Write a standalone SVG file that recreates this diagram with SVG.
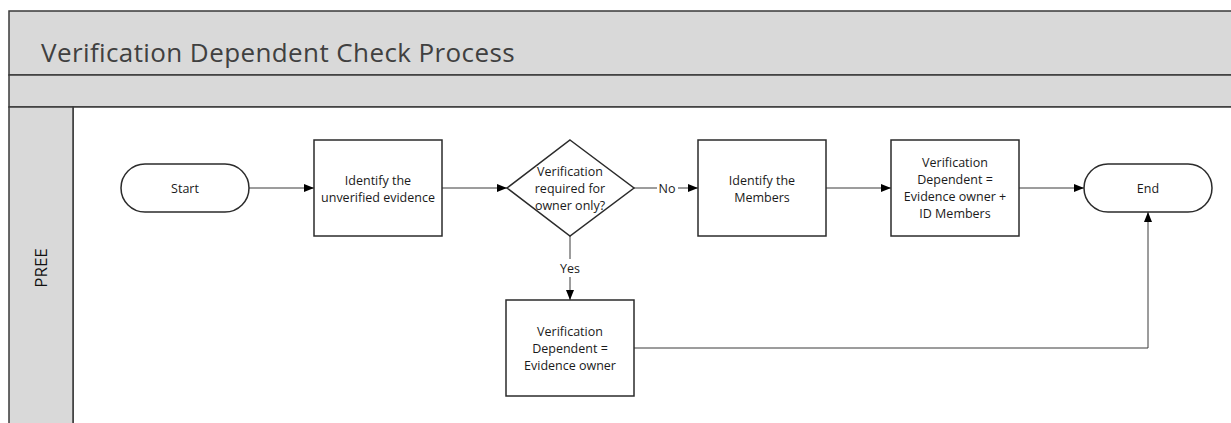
<svg xmlns="http://www.w3.org/2000/svg" width="1231" height="423" viewBox="0 0 1231 423">
  <style>
    .band { fill: #d9d9d9; stroke: #3a3a3a; stroke-width: 1.5; }
    .shape { fill: #ffffff; stroke: #2b2b2b; stroke-width: 1.5; }
    .conn { fill: none; stroke: #3a3a3a; stroke-width: 1; }
    .lbl { font-family: "Open Sans", "Noto Sans", sans-serif; font-size: 12.5px; fill: #1a1a1a; text-anchor: middle; }
    .title { font-family: "Open Sans", "Noto Sans", sans-serif; font-size: 26px; letter-spacing: 0.4px; fill: #404040; }
    .lane { font-family: "Open Sans", "Noto Sans", sans-serif; font-size: 17px; fill: #111111; text-anchor: middle; }
  </style>
  <defs>
    <marker id="arrow" markerWidth="10" markerHeight="8" refX="10" refY="4" orient="auto" markerUnits="userSpaceOnUse">
      <path d="M0,0 L10,4 L0,8 Z" fill="#000000"/>
    </marker>
  </defs>

  <rect width="1231" height="423" fill="#ffffff"/>

  <!-- pool frame: title band, spacer band, lane header -->
  <g id="pool">
    <rect class="band" x="9" y="11" width="1230" height="64"/>
    <rect class="band" x="9" y="75" width="1230" height="32"/>
    <rect x="73" y="107" width="1160" height="320" fill="#ffffff" stroke="#3a3a3a" stroke-width="1.5"/>
    <rect class="band" x="9" y="107" width="64" height="320"/>
    <text class="title" x="41" y="62">Verification Dependent Check Process</text>
    <text class="lane" transform="translate(47,268) rotate(-90)">PREE</text>
  </g>

  <!-- connectors -->
  <g id="connectors">
    <line class="conn" x1="249" y1="188" x2="314" y2="188" marker-end="url(#arrow)"/>
    <line class="conn" x1="442" y1="188" x2="507" y2="188" marker-end="url(#arrow)"/>
    <line class="conn" x1="634" y1="188" x2="657" y2="188"/>
    <line class="conn" x1="678" y1="188" x2="698" y2="188" marker-end="url(#arrow)"/>
    <text class="lbl" x="667" y="193">No</text>
    <line class="conn" x1="826" y1="188" x2="891" y2="188" marker-end="url(#arrow)"/>
    <line class="conn" x1="1019" y1="188" x2="1084" y2="188" marker-end="url(#arrow)"/>
    <line class="conn" x1="570" y1="236" x2="570" y2="259"/>
    <line class="conn" x1="570" y1="277" x2="570" y2="300" marker-end="url(#arrow)"/>
    <text class="lbl" x="570" y="273">Yes</text>
    <polyline class="conn" points="634,348 1148,348 1148,212" marker-end="url(#arrow)"/>
  </g>

  <g id="start">
    <rect class="shape" x="121" y="164" width="128" height="48" rx="24" ry="24"/>
    <text class="lbl" x="185" y="193">Start</text>
  </g>

  <g id="identify-evidence">
    <rect class="shape" x="314" y="140" width="128" height="96"/>
    <text class="lbl" x="378" y="185">Identify the</text>
    <text class="lbl" x="378" y="202">unverified evidence</text>
  </g>

  <g id="decision">
    <polygon class="shape" points="570,140 634,188 570,236 507,188"/>
    <text class="lbl" x="570" y="176">Verification</text>
    <text class="lbl" x="570" y="193">required for</text>
    <text class="lbl" x="570" y="210">owner only?</text>
  </g>

  <g id="identify-members">
    <rect class="shape" x="698" y="140" width="128" height="96"/>
    <text class="lbl" x="762" y="185">Identify the</text>
    <text class="lbl" x="762" y="202">Members</text>
  </g>

  <g id="dependent-owner-members">
    <rect class="shape" x="891" y="140" width="128" height="96"/>
    <text class="lbl" x="955" y="167">Verification</text>
    <text class="lbl" x="955" y="184">Dependent =</text>
    <text class="lbl" x="955" y="201">Evidence owner +</text>
    <text class="lbl" x="955" y="218">ID Members</text>
  </g>

  <g id="end">
    <rect class="shape" x="1084" y="164" width="128" height="48" rx="24" ry="24"/>
    <text class="lbl" x="1148" y="193">End</text>
  </g>

  <g id="dependent-owner">
    <rect class="shape" x="506" y="300" width="128" height="96"/>
    <text class="lbl" x="570" y="336">Verification</text>
    <text class="lbl" x="570" y="353">Dependent =</text>
    <text class="lbl" x="570" y="370">Evidence owner</text>
  </g>
</svg>
